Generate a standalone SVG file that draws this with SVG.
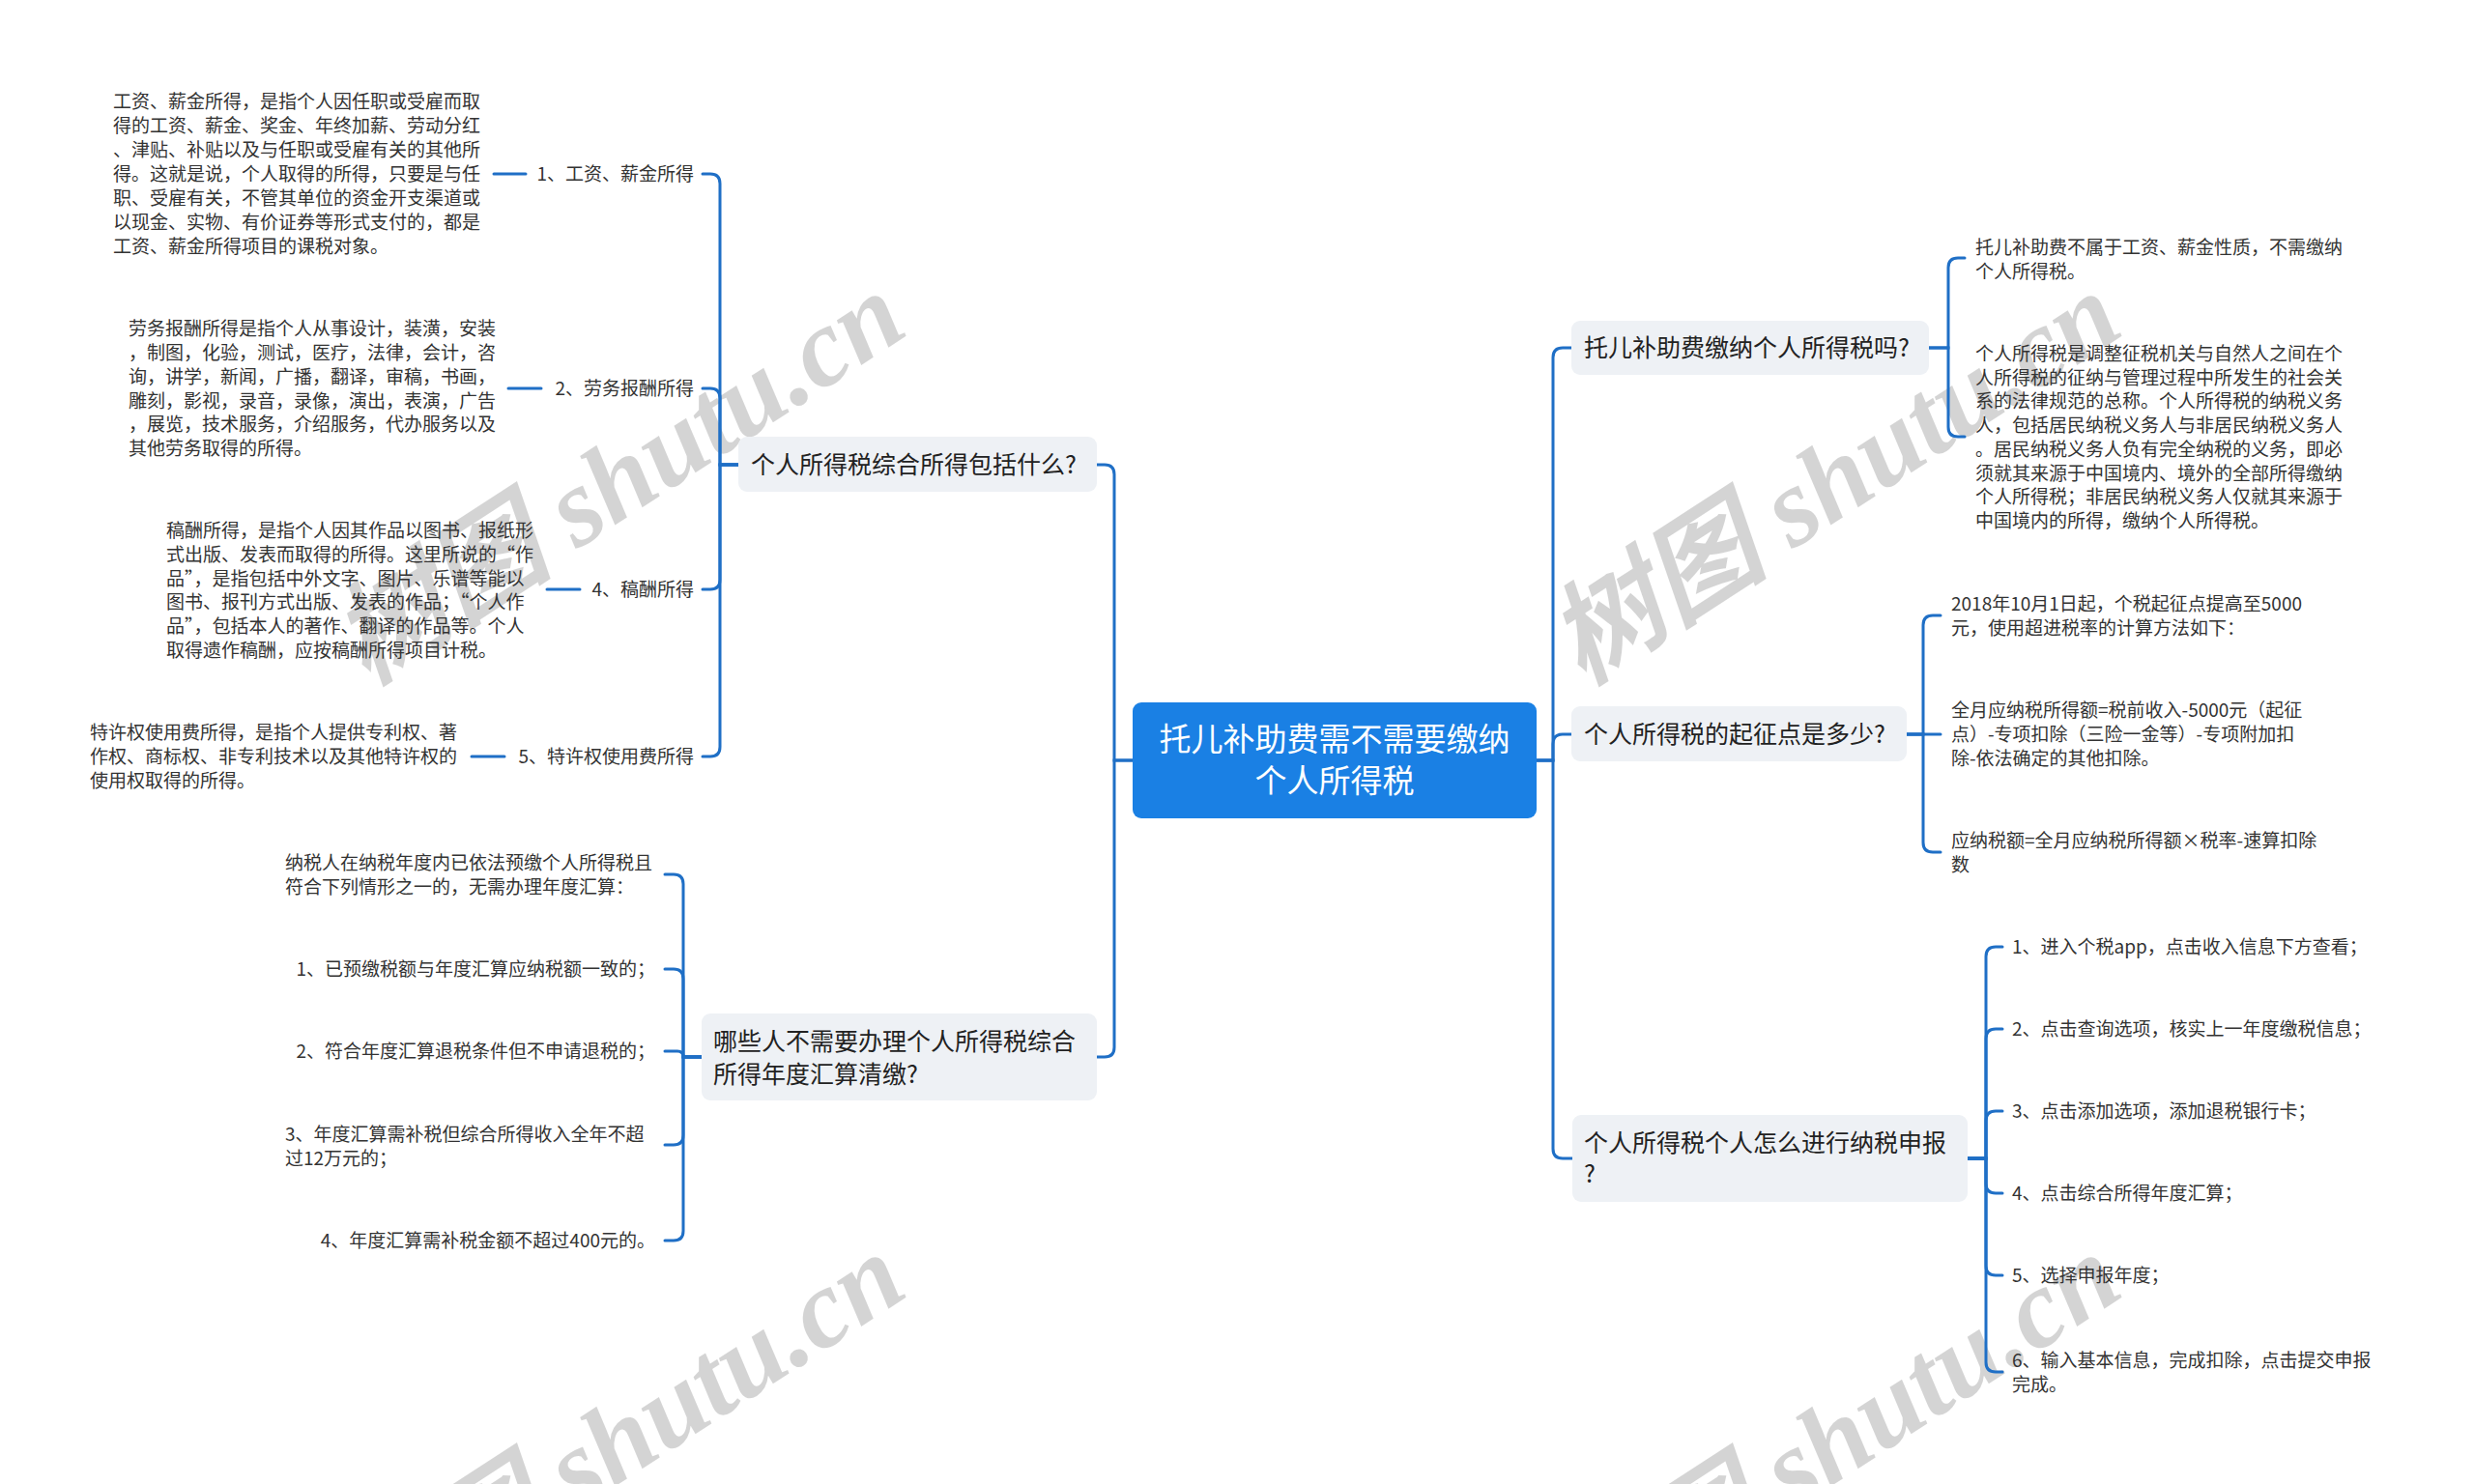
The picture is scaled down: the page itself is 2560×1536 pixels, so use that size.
<svg xmlns="http://www.w3.org/2000/svg" width="2560" height="1536" viewBox="0 0 2560 1536">
<style>
.bg{fill:#ffffff}
.wm{font-family:"Liberation Serif","Noto Sans CJK SC",serif;font-style:italic;font-weight:bold;font-size:115px;fill:#000;fill-opacity:0.17}
.c{fill:none;stroke:#1F6FC6;stroke-width:3;stroke-linecap:round}
.t{font-family:"Noto Sans CJK SC","Liberation Sans",sans-serif}
.leaf{font-size:19px;fill:#333333}
.l1{font-size:25px;fill:#222222}
.rt{font-size:33px;fill:#ffffff}
.box{fill:#EEF1F5}
.rootbox{fill:#1A80E4}
</style>
<rect class="bg" x="0" y="0" width="2560" height="1536"/>
<g id="watermarks">
<text class="wm" x="380" y="710" transform="rotate(-33 380 710)">树图 shutu.cn</text>
<text class="wm" x="1638" y="710" transform="rotate(-33 1638 710)">树图 shutu.cn</text>
<text class="wm" x="380" y="1705" transform="rotate(-33 380 1705)">树图 shutu.cn</text>
<text class="wm" x="1638" y="1705" transform="rotate(-33 1638 1705)">树图 shutu.cn</text>
</g>
<g id="connectors">
<path class="c" d="M1172,787 H1153 V491 Q1153,481 1143,481 H1135"/>
<path class="c" d="M1172,787 H1153 V1084 Q1153,1094 1143,1094 H1135"/>
<path class="c" d="M1590,787 H1607 V370 Q1607,360 1617,360 H1626"/>
<path class="c" d="M1590,787 H1607 V770 Q1607,760 1617,760 H1626"/>
<path class="c" d="M1590,787 H1607 V1189 Q1607,1199 1617,1199 H1627"/>
<path class="c" d="M764,481 H745 V190 Q745,180 735,180 H727"/>
<path class="c" d="M764,481 H745 V412 Q745,402 735,402 H727"/>
<path class="c" d="M764,481 H745 V600 Q745,610 735,610 H727"/>
<path class="c" d="M764,481 H745 V773 Q745,783 735,783 H727"/>
<path class="c" d="M511,180 H544"/>
<path class="c" d="M526,402 H560"/>
<path class="c" d="M566,610 H600"/>
<path class="c" d="M488,783 H522"/>
<path class="c" d="M726,1094 H707 V915 Q707,905 697,905 H688"/>
<path class="c" d="M726,1094 H707 V1013 Q707,1003 697,1003 H688"/>
<path class="c" d="M726,1094 H707 Q707,1088 701,1088 H688"/>
<path class="c" d="M726,1094 H707 V1175 Q707,1185 697,1185 H688"/>
<path class="c" d="M726,1094 H707 V1274 Q707,1284 697,1284 H688"/>
<path class="c" d="M1996,360 H2016 V277 Q2016,267 2026,267 H2033"/>
<path class="c" d="M1996,360 H2016 V442 Q2016,452 2026,452 H2033"/>
<path class="c" d="M1973,760 H1990 V647 Q1990,637 2000,637 H2008"/>
<path class="c" d="M1973,760 H2008"/>
<path class="c" d="M1973,760 H1990 V872 Q1990,882 2000,882 H2008"/>
<path class="c" d="M2036,1199 H2055 V990 Q2055,980 2065,980 H2072"/>
<path class="c" d="M2036,1199 H2055 V1075 Q2055,1065 2065,1065 H2072"/>
<path class="c" d="M2036,1199 H2055 V1160 Q2055,1150 2065,1150 H2072"/>
<path class="c" d="M2036,1199 H2055 V1225 Q2055,1235 2065,1235 H2072"/>
<path class="c" d="M2036,1199 H2055 V1310 Q2055,1320 2065,1320 H2072"/>
<path class="c" d="M2036,1199 H2055 V1410 Q2055,1420 2065,1420 H2072"/>
</g>
<g id="root">
<rect class="rootbox" x="1172" y="727" width="418" height="120" rx="9"/>
<text class="t rt" text-anchor="middle"><tspan x="1381" y="777">托儿补助费需不需要缴纳</tspan><tspan x="1381" y="820">个人所得税</tspan></text>
</g>
<g id="nodeA">
<rect class="box" x="764" y="452" width="371" height="57" rx="9"/>
<text class="t l1" x="777" y="490">个人所得税综合所得包括什么?</text>
</g>
<g id="nodeA1">
<text class="t leaf" x="718" y="187" text-anchor="end">1、工资、薪金所得</text>
</g>
<g id="nodeA1d">
<text class="t leaf"><tspan x="117" y="112">工资、薪金所得，是指个人因任职或受雇而取</tspan><tspan x="117" y="137">得的工资、薪金、奖金、年终加薪、劳动分红</tspan><tspan x="117" y="162">、津贴、补贴以及与任职或受雇有关的其他所</tspan><tspan x="117" y="187">得。这就是说，个人取得的所得，只要是与任</tspan><tspan x="117" y="212">职、受雇有关，不管其单位的资金开支渠道或</tspan><tspan x="117" y="237">以现金、实物、有价证券等形式支付的，都是</tspan><tspan x="117" y="262">工资、薪金所得项目的课税对象。</tspan></text>
</g>
<g id="nodeA2">
<text class="t leaf" x="718" y="409" text-anchor="end">2、劳务报酬所得</text>
</g>
<g id="nodeA2d">
<text class="t leaf"><tspan x="133" y="347">劳务报酬所得是指个人从事设计，装潢，安装</tspan><tspan x="133" y="372">，制图，化验，测试，医疗，法律，会计，咨</tspan><tspan x="133" y="397">询，讲学，新闻，广播，翻译，审稿，书画，</tspan><tspan x="133" y="422">雕刻，影视，录音，录像，演出，表演，广告</tspan><tspan x="133" y="446">，展览，技术服务，介绍服务，代办服务以及</tspan><tspan x="133" y="471">其他劳务取得的所得。</tspan></text>
</g>
<g id="nodeA3">
<text class="t leaf" x="718" y="617" text-anchor="end">4、稿酬所得</text>
</g>
<g id="nodeA3d">
<text class="t leaf"><tspan x="172" y="556">稿酬所得，是指个人因其作品以图书、报纸形</tspan><tspan x="172" y="581">式出版、发表而取得的所得。这里所说的“作</tspan><tspan x="172" y="606">品”，是指包括中外文字、图片、乐谱等能以</tspan><tspan x="172" y="630">图书、报刊方式出版、发表的作品；“个人作</tspan><tspan x="172" y="655">品”，包括本人的著作、翻译的作品等。个人</tspan><tspan x="172" y="680">取得遗作稿酬，应按稿酬所得项目计税。</tspan></text>
</g>
<g id="nodeA4">
<text class="t leaf" x="718" y="790" text-anchor="end">5、特许权使用费所得</text>
</g>
<g id="nodeA4d">
<text class="t leaf"><tspan x="93" y="765">特许权使用费所得，是指个人提供专利权、著</tspan><tspan x="93" y="790">作权、商标权、非专利技术以及其他特许权的</tspan><tspan x="93" y="815">使用权取得的所得。</tspan></text>
</g>
<g id="nodeB">
<rect class="box" x="726" y="1049" width="409" height="90" rx="9"/>
<text class="t l1"><tspan x="738" y="1087">哪些人不需要办理个人所得税综合</tspan><tspan x="738" y="1121">所得年度汇算清缴?</tspan></text>
</g>
<g id="nodeB0">
<text class="t leaf"><tspan x="295" y="900">纳税人在纳税年度内已依法预缴个人所得税且</tspan><tspan x="295" y="925">符合下列情形之一的，无需办理年度汇算：</tspan></text>
</g>
<g id="nodeB1">
<text class="t leaf" x="678" y="1010" text-anchor="end">1、已预缴税额与年度汇算应纳税额一致的；</text>
</g>
<g id="nodeB2">
<text class="t leaf" x="678" y="1095" text-anchor="end">2、符合年度汇算退税条件但不申请退税的；</text>
</g>
<g id="nodeB3">
<text class="t leaf"><tspan x="295" y="1181">3、年度汇算需补税但综合所得收入全年不超</tspan><tspan x="295" y="1206">过12万元的；</tspan></text>
</g>
<g id="nodeB4">
<text class="t leaf" x="678" y="1291" text-anchor="end">4、年度汇算需补税金额不超过400元的。</text>
</g>
<g id="nodeR1">
<rect class="box" x="1626" y="332" width="370" height="56" rx="9"/>
<text class="t l1" x="1639" y="369">托儿补助费缴纳个人所得税吗?</text>
</g>
<g id="nodeR1a">
<text class="t leaf"><tspan x="2044" y="263">托儿补助费不属于工资、薪金性质，不需缴纳</tspan><tspan x="2044" y="288">个人所得税。</tspan></text>
</g>
<g id="nodeR1b">
<text class="t leaf"><tspan x="2044" y="373">个人所得税是调整征税机关与自然人之间在个</tspan><tspan x="2044" y="398">人所得税的征纳与管理过程中所发生的社会关</tspan><tspan x="2044" y="422">系的法律规范的总称。个人所得税的纳税义务</tspan><tspan x="2044" y="447">人，包括居民纳税义务人与非居民纳税义务人</tspan><tspan x="2044" y="472">。居民纳税义务人负有完全纳税的义务，即必</tspan><tspan x="2044" y="497">须就其来源于中国境内、境外的全部所得缴纳</tspan><tspan x="2044" y="521">个人所得税；非居民纳税义务人仅就其来源于</tspan><tspan x="2044" y="546">中国境内的所得，缴纳个人所得税。</tspan></text>
</g>
<g id="nodeR2">
<rect class="box" x="1626" y="731" width="347" height="57" rx="9"/>
<text class="t l1" x="1639" y="769">个人所得税的起征点是多少?</text>
</g>
<g id="nodeR2a">
<text class="t leaf"><tspan x="2019" y="632">2018年10月1日起，个税起征点提高至5000</tspan><tspan x="2019" y="657">元，使用超进税率的计算方法如下：</tspan></text>
</g>
<g id="nodeR2b">
<text class="t leaf"><tspan x="2019" y="742">全月应纳税所得额=税前收入-5000元（起征</tspan><tspan x="2019" y="767">点）-专项扣除（三险一金等）-专项附加扣</tspan><tspan x="2019" y="792">除-依法确定的其他扣除。</tspan></text>
</g>
<g id="nodeR2c">
<text class="t leaf"><tspan x="2019" y="877">应纳税额=全月应纳税所得额×税率-速算扣除</tspan><tspan x="2019" y="902">数</tspan></text>
</g>
<g id="nodeR3">
<rect class="box" x="1627" y="1154" width="409" height="90" rx="9"/>
<text class="t l1"><tspan x="1639" y="1192">个人所得税个人怎么进行纳税申报</tspan><tspan x="1639" y="1224">?</tspan></text>
</g>
<g id="nodeR3a"><text class="t leaf" x="2082" y="987">1、进入个税app，点击收入信息下方查看；</text></g>
<g id="nodeR3b"><text class="t leaf" x="2082" y="1072">2、点击查询选项，核实上一年度缴税信息；</text></g>
<g id="nodeR3c"><text class="t leaf" x="2082" y="1157">3、点击添加选项，添加退税银行卡；</text></g>
<g id="nodeR3d"><text class="t leaf" x="2082" y="1242">4、点击综合所得年度汇算；</text></g>
<g id="nodeR3e"><text class="t leaf" x="2082" y="1327">5、选择申报年度；</text></g>
<g id="nodeR3f"><text class="t leaf"><tspan x="2082" y="1415">6、输入基本信息，完成扣除，点击提交申报</tspan><tspan x="2082" y="1440">完成。</tspan></text></g>
</svg>
